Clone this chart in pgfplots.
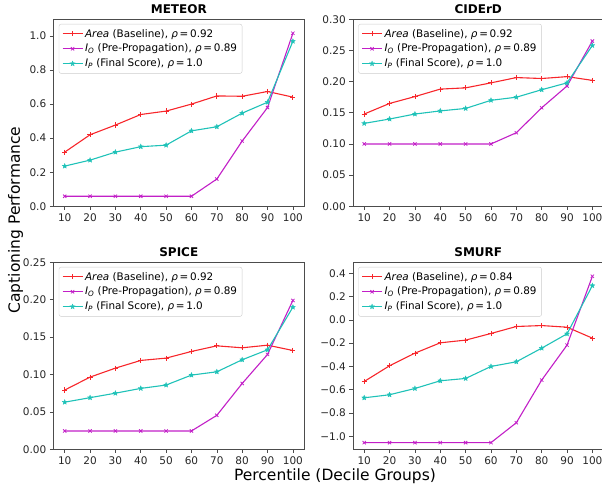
\documentclass[border=0pt]{standalone}
\usepackage{fontspec}
\setmainfont{DejaVu Sans}
\usepackage{pgfplots}
\pgfplotsset{compat=1.18}

\definecolor{cArea}{rgb}{0.97,0.15,0.17}
\definecolor{cIO}{rgb}{0.76,0.12,0.78}
\definecolor{cIP}{rgb}{0.12,0.76,0.72}

% filled five-point star, like matplotlib's '*'
\pgfdeclareplotmark{fstar}{%
  \pgfpathmoveto{\pgfpointpolar{90}{\pgfplotmarksize}}%
  \pgfpathlineto{\pgfpointpolar{126}{0.45\pgfplotmarksize}}%
  \pgfpathlineto{\pgfpointpolar{162}{\pgfplotmarksize}}%
  \pgfpathlineto{\pgfpointpolar{198}{0.45\pgfplotmarksize}}%
  \pgfpathlineto{\pgfpointpolar{234}{\pgfplotmarksize}}%
  \pgfpathlineto{\pgfpointpolar{270}{0.45\pgfplotmarksize}}%
  \pgfpathlineto{\pgfpointpolar{306}{\pgfplotmarksize}}%
  \pgfpathlineto{\pgfpointpolar{342}{0.45\pgfplotmarksize}}%
  \pgfpathlineto{\pgfpointpolar{18}{\pgfplotmarksize}}%
  \pgfpathlineto{\pgfpointpolar{54}{0.45\pgfplotmarksize}}%
  \pgfpathclose\pgfusepathqfillstroke}

\newcommand{\rhoeq}[1]{\textit{ρ}\,=\,#1}
\newcommand{\IO}{\textit{I}\textsubscript{\textit{O}}}
\newcommand{\IP}{\textit{I}\textsubscript{\textit{P}}}

\pgfplotsset{
  panel/.style={
    scale only axis, width=251pt, height=187pt,
    anchor=north west,
    xmin=5.5, xmax=104.5,
    xtick={10,20,...,100},
    axis line style={black!70},
    tick style={black!70, line width=0.6pt},
    tick align=outside, tick pos=left,
    major tick length=3.5pt,
    tick label style={font=\fontsize{10.5}{12}\selectfont, text=black!85},
    /pgf/number format/assume math mode=true,
    title style={font=\fontsize{12}{14}\selectfont\bfseries, at={(0.5,1)},
      anchor=base, inner sep=0pt, yshift=0pt},
    legend style={at={(0.022,0.975)}, anchor=north west, draw=black!20,
      rounded corners=2pt, fill=white, fill opacity=0.85, text opacity=1,
      font=\fontsize{10.4}{12}\selectfont, row sep=1.5pt, inner sep=3pt,
      /tikz/every even column/.style={column sep=1pt}},
    legend image code/.code={%
      \draw[mark repeat=2,mark phase=2] plot coordinates {(0pt,0pt) (10pt,0pt) (20pt,0pt)};},
    legend cell align=left,
  },
  sArea/.style={color=cArea, line width=1.1pt, mark=+, mark size=2.6pt,
    mark options={line width=0.8pt}},
  sIO/.style={color=cIO, line width=1.1pt, mark=x, mark size=2.3pt,
    mark options={line width=0.8pt}},
  sIP/.style={color=cIP, line width=1.1pt, mark=fstar, mark size=2.6pt,
    mark options={line width=0.3pt}},
}

\begin{document}
\begin{tikzpicture}
\path[use as bounding box] (0pt,0pt) rectangle (602pt,486pt);

% METEOR
\begin{axis}[panel, at={(53.3pt,466.7pt)}, title={METEOR},
  ymin=0, ymax=1.098, ytick={0,0.2,...,1.0},
  yticklabel style={/pgf/number format/fixed,/pgf/number format/fixed zerofill,/pgf/number format/precision=1}]
\addplot[sArea] coordinates {(10,0.318) (20,0.420) (30,0.477) (40,0.539) (50,0.559) (60,0.600) (70,0.648) (80,0.646) (90,0.674) (100,0.641)};
\addplot[sIO] coordinates {(10,0.059) (20,0.059) (30,0.059) (40,0.059) (50,0.059) (60,0.059) (70,0.160) (80,0.383) (90,0.580) (100,1.016)};
\addplot[sIP] coordinates {(10,0.236) (20,0.271) (30,0.318) (40,0.350) (50,0.359) (60,0.443) (70,0.467) (80,0.547) (90,0.611) (100,0.969)};
\legend{{\textit{Area} (Baseline), \rhoeq{0.92}}, {\IO{} (Pre-Propagation), \rhoeq{0.89}}, {\IP{} (Final Score), \rhoeq{1.0}}}
\end{axis}

% CIDErD
\begin{axis}[panel, at={(352.8pt,466.7pt)}, title={CIDErD},
  ymin=0, ymax=0.30, ytick={0,0.05,...,0.30},
  yticklabel style={/pgf/number format/fixed,/pgf/number format/fixed zerofill,/pgf/number format/precision=2}]
\addplot[sArea] coordinates {(10,0.148) (20,0.165) (30,0.176) (40,0.188) (50,0.190) (60,0.198) (70,0.2065) (80,0.205) (90,0.208) (100,0.202)};
\addplot[sIO] coordinates {(10,0.100) (20,0.100) (30,0.100) (40,0.100) (50,0.100) (60,0.100) (70,0.118) (80,0.158) (90,0.193) (100,0.265)};
\addplot[sIP] coordinates {(10,0.133) (20,0.140) (30,0.148) (40,0.153) (50,0.157) (60,0.170) (70,0.175) (80,0.187) (90,0.198) (100,0.258)};
\legend{{\textit{Area} (Baseline), \rhoeq{0.92}}, {\IO{} (Pre-Propagation), \rhoeq{0.89}}, {\IP{} (Final Score), \rhoeq{1.0}}}
\end{axis}

% SPICE
\begin{axis}[panel, at={(53.3pt,223.7pt)}, title={SPICE},
  ymin=0, ymax=0.25, ytick={0,0.05,...,0.25},
  yticklabel style={/pgf/number format/fixed,/pgf/number format/fixed zerofill,/pgf/number format/precision=2}]
\addplot[sArea] coordinates {(10,0.0792) (20,0.0965) (30,0.1085) (40,0.1188) (50,0.1219) (60,0.1308) (70,0.1383) (80,0.1357) (90,0.1392) (100,0.1321)};
\addplot[sIO] coordinates {(10,0.0245) (20,0.0245) (30,0.0245) (40,0.0245) (50,0.0245) (60,0.0245) (70,0.0454) (80,0.0880) (90,0.1268) (100,0.1990)};
\addplot[sIP] coordinates {(10,0.0630) (20,0.0690) (30,0.0750) (40,0.0814) (50,0.0859) (60,0.0992) (70,0.1036) (80,0.1197) (90,0.1330) (100,0.1900)};
\legend{{\textit{Area} (Baseline), \rhoeq{0.92}}, {\IO{} (Pre-Propagation), \rhoeq{0.89}}, {\IP{} (Final Score), \rhoeq{1.0}}}
\end{axis}

% SMURF
\begin{axis}[panel, at={(352.8pt,223.7pt)}, title={SMURF},
  ymin=-1.111, ymax=0.494, ytick={-1.0,-0.8,-0.6,-0.4,-0.2,0,0.2,0.4},
  yticklabels={−1.0,−0.8,−0.6,−0.4,−0.2,0.0,0.2,0.4}]
\addplot[sArea] coordinates {(10,-0.529) (20,-0.394) (30,-0.286) (40,-0.197) (50,-0.174) (60,-0.117) (70,-0.057) (80,-0.049) (90,-0.063) (100,-0.157)};
\addplot[sIO] coordinates {(10,-1.054) (20,-1.054) (30,-1.054) (40,-1.054) (50,-1.054) (60,-1.054) (70,-0.883) (80,-0.517) (90,-0.217) (100,0.374)};
\addplot[sIP] coordinates {(10,-0.669) (20,-0.643) (30,-0.589) (40,-0.523) (50,-0.503) (60,-0.400) (70,-0.360) (80,-0.243) (90,-0.120) (100,0.294)};
\legend{{\textit{Area} (Baseline), \rhoeq{0.84}}, {\IO{} (Pre-Propagation), \rhoeq{0.89}}, {\IP{} (Final Score), \rhoeq{1.0}}}
\end{axis}

\node[font=\fontsize{15.5}{18}\selectfont, anchor=base] at (335pt,5.5pt) {Percentile (Decile Groups)};
\node[font=\fontsize{15.5}{18}\selectfont, rotate=90, anchor=base] at (20pt,266pt) {Captioning Performance};
\end{tikzpicture}
\end{document}
